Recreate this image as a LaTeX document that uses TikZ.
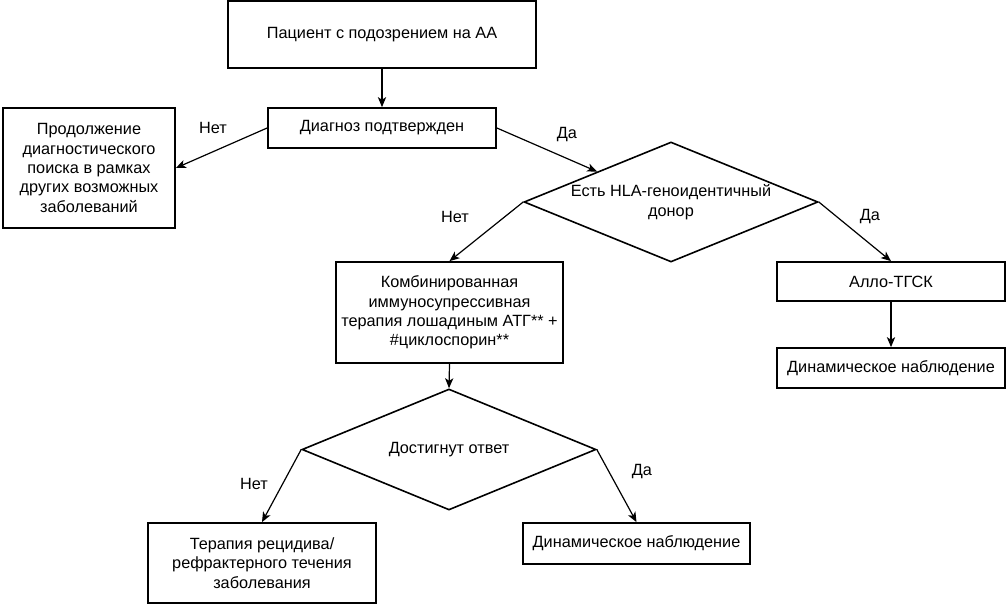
\documentclass[tikz,border=0pt]{standalone}
\usepackage{fontspec}
\setmainfont{Liberation Sans}
\usetikzlibrary{shapes.geometric,arrows.meta}

\tikzset{every picture/.style={line width=0.9pt}}
\tikzset{
	blockbox/.style={draw, line width=1.3pt, align=center, inner sep=2pt, font=\fontsize{12.2}{14.5}\selectfont},
	choicebox/.style={draw, diamond, line width=1.2pt, align=center, inner sep=0pt, shape aspect=2.45, font=\fontsize{12.2}{14.5}\selectfont},
	link/.style={-{Stealth[length=7.5pt,width=6.2pt,inset=2pt]}},
	yesno/.style={font=\fontsize{12.2}{14.5}\selectfont}
}

\begin{document}
\begin{tikzpicture}[x=0.75pt,y=0.75pt,yscale=-1,xscale=1]
	\useasboundingbox (0,0) rectangle (1006,605);

	%Shape: Rectangle
	\node[blockbox, minimum width=231pt, minimum height=50.25pt] (patient) at (382,34.5) {Пациент с подозрением на АА};
	%Shape: Rectangle
	\node[blockbox, minimum width=171pt, minimum height=30pt] (diag) at (382,128) {Диагноз подтвержден};
	%Shape: Rectangle
	\node[blockbox, minimum width=129pt, minimum height=90pt] (search) at (89,168) {Продолжение\\диагностического\\поиска в рамках\\других возможных\\заболеваний};
	%Shape: Diamond
	\node[choicebox, minimum width=220.5pt, minimum height=90pt] (hla) at (671,202) {Есть HLA-геноидентичный\\донор};
	%Shape: Rectangle
	\node[blockbox, minimum width=170.25pt, minimum height=75.75pt] (combo) at (449.5,312.5) {Комбинированная\\иммуносупрессивная\\терапия лошадиным АТГ** +\\\#циклоспорин**};
	%Shape: Rectangle
	\node[blockbox, minimum width=171pt, minimum height=29.25pt] (allo) at (891,281.5) {Алло-ТГСК};
	%Shape: Rectangle
	\node[blockbox, minimum width=171pt, minimum height=30pt] (watchA) at (891,368) {Динамическое наблюдение};
	%Shape: Diamond
	\node[choicebox, minimum width=220.5pt, minimum height=90.75pt] (resp) at (449,449.5) {Достигнут ответ};
	%Shape: Rectangle
	\node[blockbox, minimum width=171pt, minimum height=60pt] (relapse) at (262,563) {Терапия рецидива/\\рефрактерного течения\\заболевания};
	%Shape: Rectangle
	\node[blockbox, minimum width=170.25pt, minimum height=30.75pt] (watchB) at (636.5,543.5) {Динамическое наблюдение};

	%Straight Lines
	\draw[link] (patient.south) -- (diag.north);
	%Straight Lines
	\draw[link] (diag.west) -- (search.east);
	%Straight Lines
	\draw[link] (diag.east) -- (hla.north west);
	%Straight Lines
	\draw[link] (hla.west) -- (combo.north);
	%Straight Lines
	\draw[link] (hla.east) -- (allo.north);
	%Straight Lines
	\draw[link] (allo.south) -- (watchA.north);
	%Straight Lines
	\draw[link] (combo.south) -- (resp.north);
	%Straight Lines
	\draw[link] (resp.west) -- (relapse.north);
	%Straight Lines
	\draw[link] (resp.east) -- (watchB.north);

	% Text Node
	\node[yesno] (noA) at (213,128) {Нет};
	% Text Node
	\node[yesno] (yesA) at (567,135) {Да};
	% Text Node
	\node[yesno] (noB) at (455,217) {Нет};
	% Text Node
	\node[yesno] (yesB) at (870,217) {Да};
	% Text Node
	\node[yesno] (noC) at (254,484) {Нет};
	% Text Node
	\node[yesno] (yesC) at (642,472) {Да};

\end{tikzpicture}
\end{document}
